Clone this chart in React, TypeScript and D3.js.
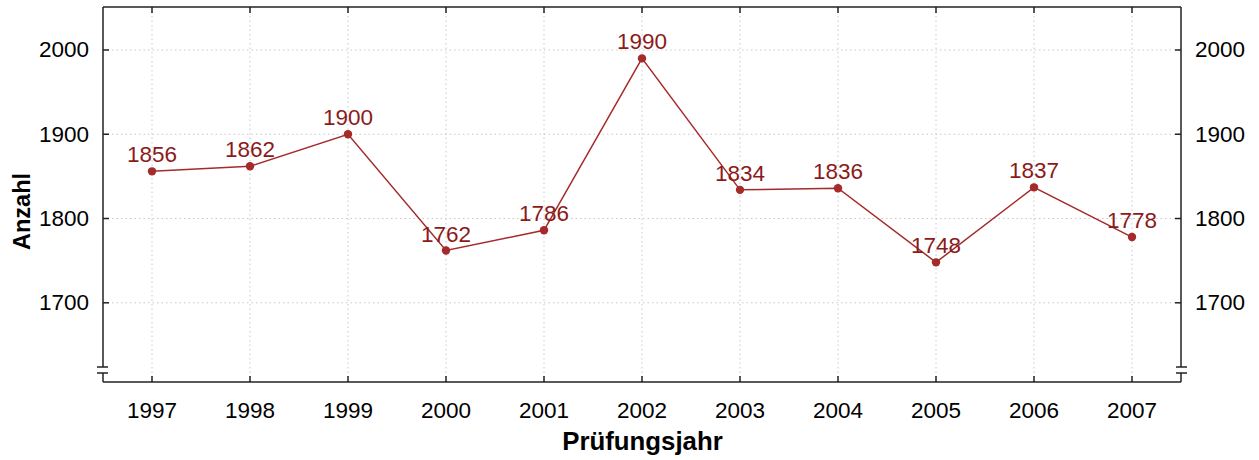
import React from "react";
import * as d3 from "d3";

const years = [1997, 1998, 1999, 2000, 2001, 2002, 2003, 2004, 2005, 2006, 2007];
const counts = [1856, 1862, 1900, 1762, 1786, 1990, 1834, 1836, 1748, 1837, 1778];
const yTicks = [1700, 1800, 1900, 2000];
const xTitle = "Prüfungsjahr";
const yTitle = "Anzahl";

const W = 1259;
const H = 460;
const left = 103;
const right = 1181;
const top = 7;
const bottom = 382;

export default function App() {
  const x = d3.scaleLinear().domain([1996.5, 2007.5]).range([left, right]);
  const y = d3.scaleLinear().domain([1606, 2051]).range([bottom, top]);
  const line = d3
    .line<number>()
    .x((_, i) => x(years[i]))
    .y((d) => y(d));
  const font = "Liberation Sans, Arial, sans-serif";
  const axisColor = "#222";
  const brk1 = bottom - 15;
  const brk2 = bottom - 9;
  const fs = 22.5;
  return (
    <svg
      width={W}
      height={H}
      style={{ position: "absolute", left: 0, top: 0, background: "#fff" }}
      fontFamily={font}
    >
      {/* grid */}
      {yTicks.map((t) => (
        <line key={"gy" + t} x1={left} x2={right} y1={y(t)} y2={y(t)} stroke="#c8c8c8" strokeDasharray="1.5,3" />
      ))}
      {years.map((t) => (
        <line key={"gx" + t} x1={x(t)} x2={x(t)} y1={top} y2={bottom} stroke="#c8c8c8" strokeDasharray="1.5,3" />
      ))}
      {/* frame */}
      <line x1={left} x2={right} y1={top} y2={top} stroke={axisColor} strokeWidth={1.5} />
      <line x1={left} x2={right} y1={bottom} y2={bottom} stroke={axisColor} strokeWidth={1.5} />
      <line x1={left} x2={left} y1={top} y2={brk1} stroke={axisColor} strokeWidth={1.5} />
      <line x1={left} x2={left} y1={brk2} y2={bottom} stroke={axisColor} strokeWidth={1.5} />
      <line x1={right} x2={right} y1={top} y2={brk1} stroke={axisColor} strokeWidth={1.5} />
      <line x1={right} x2={right} y1={brk2} y2={bottom} stroke={axisColor} strokeWidth={1.5} />
      {[brk1, brk2].map((b) => (
        <g key={"b" + b}>
          <line x1={left - 6} x2={left + 5} y1={b} y2={b} stroke={axisColor} strokeWidth={1.5} />
          <line x1={right - 5} x2={right + 6} y1={b} y2={b} stroke={axisColor} strokeWidth={1.5} />
        </g>
      ))}
      {/* ticks */}
      {yTicks.map((t) => (
        <g key={"ty" + t}>
          <line x1={left} x2={left + 6} y1={y(t)} y2={y(t)} stroke={axisColor} strokeWidth={1.5} />
          <line x1={right - 6} x2={right} y1={y(t)} y2={y(t)} stroke={axisColor} strokeWidth={1.5} />
          <text x={left - 14} y={y(t)} textAnchor="end" dominantBaseline="central" fontSize={fs}>
            {t}
          </text>
          <text x={right + 14} y={y(t)} textAnchor="start" dominantBaseline="central" fontSize={fs}>
            {t}
          </text>
        </g>
      ))}
      {years.map((t) => (
        <g key={"tx" + t}>
          <line x1={x(t)} x2={x(t)} y1={bottom} y2={bottom - 6} stroke={axisColor} strokeWidth={1.5} />
          <line x1={x(t)} x2={x(t)} y1={top} y2={top + 6} stroke={axisColor} strokeWidth={1.5} />
          <text x={x(t)} y={bottom + 36} textAnchor="middle" fontSize={fs}>
            {t}
          </text>
        </g>
      ))}
      {/* axis titles */}
      <text x={(left + right) / 2 + 0.5} y={450} textAnchor="middle" fontSize={25.8} fontWeight="bold">
        {xTitle}
      </text>
      <text
        transform={`translate(30, 211.5) rotate(-90)`}
        textAnchor="middle"
        fontSize={23.5}
        fontWeight="bold"
      >
        {yTitle}
      </text>
      {/* series */}
      <path d={line(counts) || ""} fill="none" stroke="#a52a2a" strokeWidth={1.5} />
      {counts.map((v, i) => (
        <g key={"p" + i}>
          <circle cx={x(years[i])} cy={y(v)} r={4.2} fill="#a52a2a" />
          <text x={x(years[i])} y={y(v) - 9} textAnchor="middle" fontSize={fs} fill="#8b1a1a">
            {v}
          </text>
        </g>
      ))}
    </svg>
  );
}
